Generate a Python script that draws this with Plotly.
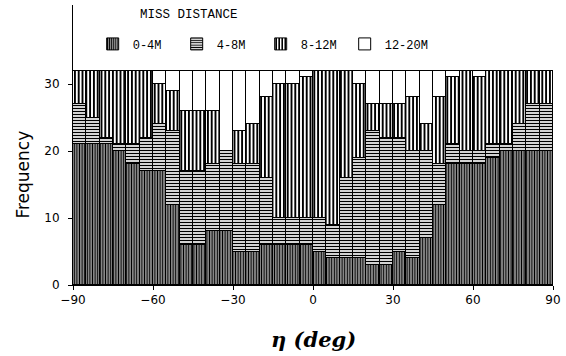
import plotly.graph_objects as go

# Bin centres (5-degree bins from -90 to 90)
eta = [-87.5 + 5 * i for i in range(36)]

m0_4 = [21, 21, 21, 20, 18, 17, 17, 12, 6, 6, 8, 8, 5, 5, 6, 6, 6, 6,
        5, 4, 4, 4, 3, 3, 5, 4, 7, 12, 18, 18, 18, 19, 20, 20, 20, 20]
m4_8 = [6, 4, 1, 1, 3, 5, 7, 11, 11, 11, 10, 12, 13, 13, 10, 4, 4, 4,
        5, 5, 12, 15, 20, 19, 17, 16, 13, 6, 3, 2, 2, 2, 1, 4, 7, 7]
m8_12 = [5, 7, 10, 11, 11, 10, 6, 6, 9, 9, 8, 0, 5, 6, 12, 20, 20, 21,
         22, 23, 16, 11, 4, 5, 5, 8, 4, 10, 10, 12, 11, 11, 11, 8, 5, 5]
m12_20 = [0, 0, 0, 0, 0, 0, 2, 3, 6, 6, 6, 12, 9, 8, 4, 2, 2, 1,
          0, 0, 0, 2, 5, 5, 5, 4, 8, 4, 1, 0, 1, 0, 0, 0, 0, 0]

series = [
    ("0-4M", m0_4, dict(shape="|", size=2.6, solidity=0.65)),
    ("4-8M", m4_8, dict(shape="-", size=3, solidity=0.45)),
    ("8-12M", m8_12, dict(shape="|", size=3.8, solidity=0.5)),
    ("12-20M", m12_20, None),
]

fig = go.Figure()
for name, vals, pat in series:
    marker = dict(color="white", line=dict(color="black", width=1))
    if pat is not None:
        marker["pattern"] = dict(fgcolor="black", bgcolor="white",
                                 fillmode="replace", **pat)
    fig.add_trace(go.Bar(x=eta, y=vals, width=5, name=name, marker=marker))

mono = "Liberation Mono"
fig.update_layout(
    width=566, height=356,
    margin=dict(l=73, r=8, t=5, b=71),
    paper_bgcolor="white", plot_bgcolor="white",
    barmode="stack", bargap=0,
    showlegend=True,
    legend=dict(orientation="h", x=0.041, y=0.861, xanchor="left",
                yanchor="middle", traceorder="normal",
                font=dict(family=mono, size=12, color="black"),
                entrywidth=39, entrywidthmode="pixels",
                bgcolor="rgba(0,0,0,0)"),
    xaxis=dict(range=[-90, 90], tickvals=[-90, -60, -30, 0, 30, 60, 90],
               showline=True, linecolor="black", linewidth=1,
               ticks="outside", ticklen=4, tickcolor="black",
               showgrid=False, zeroline=False,
               tickfont=dict(family="DejaVu Sans", size=12, color="black")),
    yaxis=dict(range=[0, 41.8], tickvals=[0, 10, 20, 30],
               showline=True, linecolor="black", linewidth=1,
               ticks="outside", ticklen=4, tickcolor="black",
               showgrid=False, zeroline=False,
               ticklabelstandoff=6,
               tickfont=dict(family="DejaVu Sans", size=12, color="black")),
    annotations=[
        dict(text="MISS DISTANCE", x=0.241, y=0.964, xref="paper", yref="paper",
             xanchor="center", yanchor="middle",
             showarrow=False, font=dict(family=mono, size=12.5, color="black")),
        dict(text="Frequency", x=-0.105, y=0.393, xref="paper", yref="paper",
             xanchor="center", yanchor="middle",
             textangle=-90, showarrow=False,
             font=dict(family="DejaVu Sans", size=17, color="black")),
        dict(text="<b><i>η (deg)</i></b>", x=0.5, y=-0.196, xref="paper", yref="paper",
             xanchor="center", yanchor="middle",
             showarrow=False,
             font=dict(family="DejaVu Serif", size=21, color="black")),
    ],
)

fig.write_html("out.html")
